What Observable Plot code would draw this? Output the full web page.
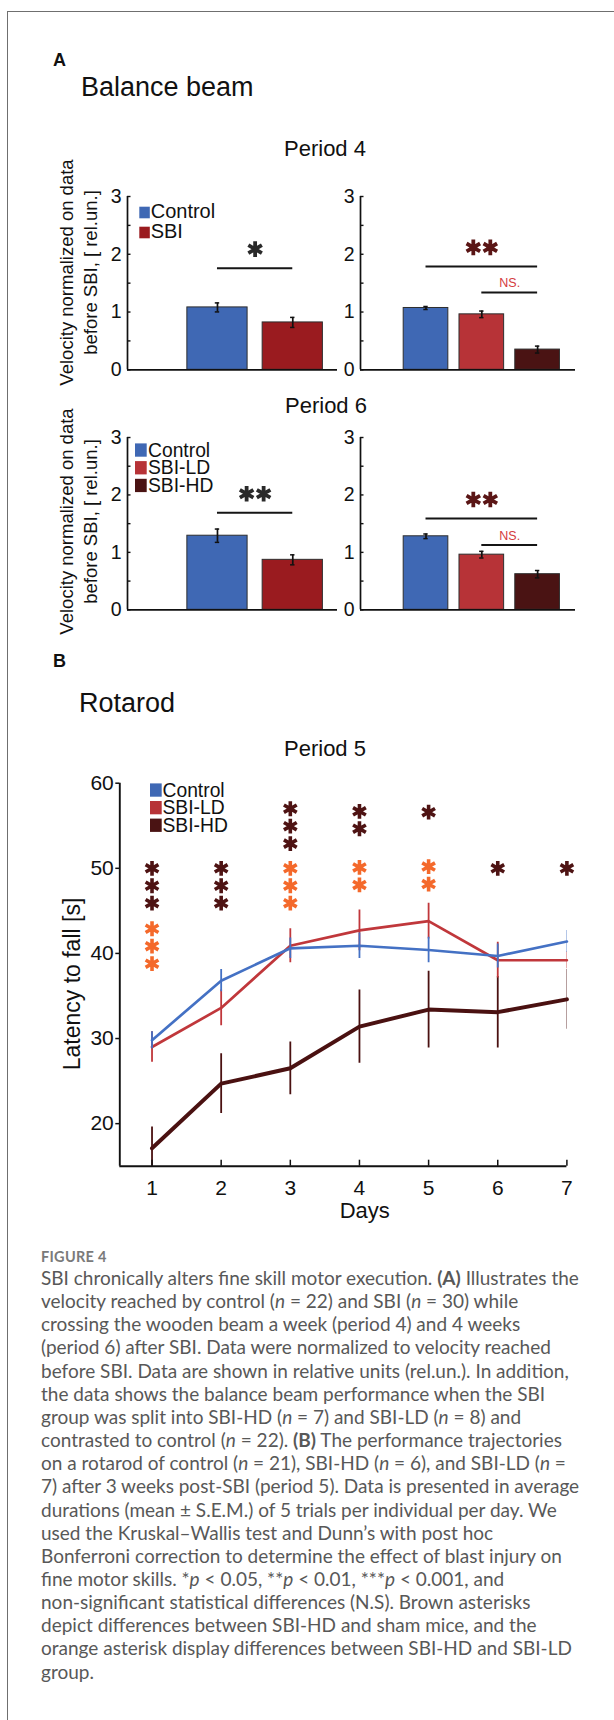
<!DOCTYPE html>
<html><head><meta charset="utf-8">
<script src="https://cdn.jsdelivr.net/npm/d3@7"></script>
<script src="https://cdn.jsdelivr.net/npm/@observablehq/plot@0.6"></script>
<style>
html,body{margin:0;padding:0;background:#fff;}
#page{position:relative;width:614px;height:1720px;overflow:hidden;background:#fff;}
#border{position:absolute;left:7px;top:11px;width:800px;height:1900px;border-left:1.3px solid #6f6f6f;border-top:1.3px solid #6f6f6f;}
</style></head>
<body><div id="page"><div id="border"></div></div>
<script>
// ---------------- DATA ----------------
// Balance beam, period 4
const p4TwoGroups = ["Control", "SBI"];
const p4TwoMean = [1.08, 0.82];
const p4TwoErr = [0.078, 0.087];
const p4ThreeGroups = ["Control", "SBI-LD", "SBI-HD"];
const p4ThreeMean = [1.07, 0.96, 0.35];
const p4ThreeErr = [0.026, 0.057, 0.06];
// Balance beam, period 6
const p6TwoGroups = ["Control", "SBI"];
const p6TwoMean = [1.29, 0.87];
const p6TwoErr = [0.116, 0.087];
const p6ThreeGroups = ["Control", "SBI-LD", "SBI-HD"];
const p6ThreeMean = [1.28, 0.96, 0.62];
const p6ThreeErr = [0.04, 0.058, 0.064];
// significance annotations (from, to, bar height, stars or NS)
const p4TwoSig = [{from: "Control", to: "SBI", y: 1.76, stars: 1}];
const p4ThreeSig = [{from: "Control", to: "SBI-HD", y: 1.79, stars: 2}, {from: "SBI-LD", to: "SBI-HD", y: 1.34, ns: true}];
const p6TwoSig = [{from: "Control", to: "SBI", y: 1.69, stars: 2}];
const p6ThreeSig = [{from: "Control", to: "SBI-HD", y: 1.59, stars: 2}, {from: "SBI-LD", to: "SBI-HD", y: 1.13, ns: true}];
const barTicks = [0, 1, 2, 3];
const barMinorTicks = [0, 0.5, 1, 1.5, 2, 2.5, 3];

// Rotarod, period 5
const days = [1, 2, 3, 4, 5, 6, 7];
const controlMean = [29.8, 36.8, 40.6, 40.9, 40.4, 39.7, 41.4];
const controlSem = [1.0, 1.3, 1.2, 1.5, 1.5, 1.4, 1.3];
const ldMean = [29.0, 33.6, 40.9, 42.7, 43.8, 39.2, 39.2];
const ldSem = [1.8, 2.1, 2.0, 2.4, 2.1, 2.1, 1.0];
const hdMean = [17.1, 24.7, 26.5, 31.4, 33.4, 33.1, 34.6];
const hdSem = [2.5, 3.5, 3.1, 4.3, 4.5, 4.2, 3.5];
const rotTicksY = [20, 30, 40, 50, 60];
// asterisk columns: day, comparison, number of stars, top level
const starDay = [1, 1, 2, 3, 3, 4, 4, 5, 5, 6, 7];
const starVs = ["sham", "LD", "sham", "sham", "LD", "sham", "LD", "sham", "LD", "sham", "sham"];
const starCount = [3, 3, 3, 3, 3, 2, 2, 1, 2, 1, 1];
const starTop = [50.0, 42.9, 50.0, 57.0, 50.0, 56.7, 50.1, 56.6, 50.2, 50.0, 50.0];

// ---------------- STYLE ----------------
const FONT = '"Liberation Sans", Arial, Helvetica, sans-serif';
const barColors = {"Control": "#3f68b4", "SBI": "#9a1b1f", "SBI-LD": "#b73337", "SBI-HD": "#4a1313"};
const lineColors = {"Control": "#4471c4", "SBI-LD": "#c0373b", "SBI-HD": "#4a1111"};
const starColors = {"sham": "#4e1313", "LD": "#f4692b"};
const intFmt = d3.format("d");

const page = document.getElementById("page");
function put(node, left, top) {
  node.style.position = "absolute";
  node.style.left = left + "px";
  node.style.top = top + "px";
  page.appendChild(node);
}

function barPanel({groups, means, errs, sigs, xDomain, left, top, width, height, frame, starColor}) {
  const data = groups.map((g, i) => ({g, i: i + 1, v: means[i], e: errs[i]}));
  const pos = new Map(groups.map((g, i) => [g, i + 1]));
  const sig = sigs.map(s => ({...s, a: pos.get(s.from), b: pos.get(s.to)}));
  const starMarks = sig.filter(s => s.stars).flatMap(s => d3.range(s.stars).map(k =>
    Plot.dot([s], {x: d => (d.a + d.b) / 2, y: "y", dx: (k - (s.stars - 1) / 2) * 17, dy: -19,
      symbol: "asterisk", r: 7.4, stroke: starColor, strokeWidth: 3.8})));
  const chart = Plot.plot({
    width, height,
    marginLeft: frame[0] - left, marginRight: left + width - frame[1],
    marginTop: frame[2] - top, marginBottom: top + height - frame[3],
    x: {domain: xDomain, axis: null, label: null},
    y: {domain: [0, 3], label: null},
    style: {background: "transparent", overflow: "visible", fontFamily: FONT, fontSize: "19.5px", color: "#111"},
    marks: [
      Plot.rectY(data, {x1: d => d.i - 0.4, x2: d => d.i + 0.4, y1: 0, y2: "v",
        fill: d => barColors[d.g], stroke: "#2e2e2e", strokeWidth: 1}),
      Plot.ruleX(data, {x: "i", y1: d => d.v - d.e, y2: d => d.v + d.e, stroke: "#111", strokeWidth: 1.7}),
      Plot.ruleY(data, {x1: "i", x2: "i", y: d => d.v + d.e, insetLeft: -2.2, insetRight: -2.2, stroke: "#111", strokeWidth: 1.5}),
      Plot.ruleY(data, {x1: "i", x2: "i", y: d => d.v - d.e, insetLeft: -2.2, insetRight: -2.2, stroke: "#111", strokeWidth: 1.5}),
      Plot.ruleX([xDomain[0]], {stroke: "#111", strokeWidth: 1.7}),
      Plot.ruleY([0], {stroke: "#111", strokeWidth: 1.7}),
      Plot.axisY({ticks: barTicks, tickSize: 0, tickPadding: 6, fontSize: 19.5, tickFormat: intFmt, label: null}),
      Plot.axisY({ticks: barMinorTicks, tickSize: 3.5, dx: 3.5, tickFormat: () => "", label: null, strokeWidth: 1.4}),
      Plot.ruleY(sig, {x1: "a", x2: "b", y: "y", stroke: "#151515", strokeWidth: 2}),
      Plot.text(sig.filter(s => s.ns), {x: d => (d.a + d.b) / 2, y: "y", text: () => "NS.", dy: -9,
        fill: "#d43b40", fontSize: 12.5}),
      ...starMarks
    ]
  });
  put(chart, left, top);
}

barPanel({groups: p4TwoGroups, means: p4TwoMean, errs: p4TwoErr, sigs: p4TwoSig, xDomain: [-0.195, 2.594],
  left: 0, top: 180, width: 345, height: 200, frame: [127, 337, 196, 369.3], starColor: "#2a2a2a"});
barPanel({groups: p4ThreeGroups, means: p4ThreeMean, errs: p4ThreeErr, sigs: p4ThreeSig, xDomain: [-0.174, 3.679],
  left: 340, top: 180, width: 274, height: 200, frame: [360, 575, 196, 369.3], starColor: "#5a1515"});
barPanel({groups: p6TwoGroups, means: p6TwoMean, errs: p6TwoErr, sigs: p6TwoSig, xDomain: [-0.195, 2.594],
  left: 0, top: 420, width: 345, height: 200, frame: [127, 337, 437, 609.3], starColor: "#2a2a2a"});
barPanel({groups: p6ThreeGroups, means: p6ThreeMean, errs: p6ThreeErr, sigs: p6ThreeSig, xDomain: [-0.174, 3.679],
  left: 340, top: 420, width: 274, height: 200, frame: [360, 575, 437, 609.3], starColor: "#5a1515"});

// Rotarod
const series = [
  {name: "SBI-HD", mean: hdMean, sem: hdSem, w: 4},
  {name: "SBI-LD", mean: ldMean, sem: ldSem, w: 2.7},
  {name: "Control", mean: controlMean, sem: controlSem, w: 2.7}
];
const stars = starDay.flatMap((day, j) => d3.range(starCount[j]).map(k =>
  ({day, vs: starVs[j], y: starTop[j] - k * 2.05})));
const rotMarks = series.flatMap(s => {
  const d = days.map((day, i) => ({day, m: s.mean[i], e: s.sem[i]}));
  return [
    Plot.ruleX(d, {x: "day", y1: r => r.m - r.e, y2: r => r.m + r.e, stroke: lineColors[s.name], strokeWidth: 1.8, clip: true}),
    Plot.line(d, {x: "day", y: "m", stroke: lineColors[s.name], strokeWidth: s.w, strokeLinejoin: "round"})
  ];
});
const rot = Plot.plot({
  width: 614, height: 450,
  marginLeft: 119.3, marginRight: 47.6, marginTop: 22.7, marginBottom: 44.3,
  x: {domain: [0.534, 7], label: null},
  y: {domain: [15, 60], label: null},
  style: {background: "transparent", overflow: "visible", fontFamily: FONT, fontSize: "21px", color: "#111"},
  marks: [
    ...rotMarks,
    Plot.dot(stars, {x: "day", y: "y", symbol: "asterisk", r: 7, stroke: d => starColors[d.vs], strokeWidth: 3.6}),
    Plot.ruleX([0.534], {stroke: "#111", strokeWidth: 1.9}),
    Plot.ruleY([15], {stroke: "#111", strokeWidth: 1.9}),
    Plot.axisY({ticks: rotTicksY, tickSize: 4, tickPadding: 2, fontSize: 21, tickFormat: intFmt, label: null, strokeWidth: 1.5}),
    Plot.axisX({ticks: days, tickSize: 0, tickPadding: 14, fontSize: 21, tickFormat: intFmt, label: null}),
    Plot.axisX({ticks: days, tickSize: 6, dy: -6, tickFormat: () => "", label: null, strokeWidth: 1.5})
  ]
});
put(rot, 0, 760);

// ---------------- TEXT OVERLAY ----------------
const ov = d3.create("svg").attr("width", 614).attr("height", 1720)
  .attr("font-family", FONT).attr("fill", "#111")
  .style("position", "absolute").style("left", "0px").style("top", "0px").style("pointer-events", "none");

const titles = [
  {t: "A", x: 53, y: 65.5, s: 18, w: "bold", a: "start"},
  {t: "Balance beam", x: 81, y: 96, s: 27, a: "start"},
  {t: "Period 4", x: 325, y: 156, s: 22, a: "middle"},
  {t: "Period 6", x: 326, y: 413.3, s: 22, a: "middle"},
  {t: "B", x: 53, y: 667, s: 18, w: "bold", a: "start"},
  {t: "Rotarod", x: 79, y: 712.3, s: 27, a: "start"},
  {t: "Period 5", x: 325, y: 756, s: 22, a: "middle"},
  {t: "Days", x: 364.7, y: 1218.3, s: 22, a: "middle"}
];
for (const d of titles) {
  ov.append("text").attr("x", d.x).attr("y", d.y).attr("font-size", d.s)
    .attr("font-weight", d.w || "normal").attr("text-anchor", d.a).text(d.t);
}
function vtext(x, y, text, size) {
  ov.append("text").attr("transform", `translate(${x},${y}) rotate(-90)`)
    .attr("text-anchor", "middle").attr("font-size", size).text(text);
}
vtext(73, 272.5, "Velocity normalized on data", 18.5);
vtext(97, 272.5, "before SBI, [ rel.un.]", 18.5);
vtext(73, 521.5, "Velocity normalized on data", 18.5);
vtext(97, 521.5, "before SBI, [ rel.un.]", 18.5);
vtext(79.5, 984, "Latency to fall [s]", 23);

function legend(items, {x, w, h, tx, y0, dy, size}) {
  items.forEach((g, k) => {
    const by = y0 + k * dy;
    ov.append("rect").attr("x", x).attr("y", by - h).attr("width", w).attr("height", h).attr("fill", barColors[g]);
    ov.append("text").attr("x", tx).attr("y", by).attr("font-size", size).text(g);
  });
}
legend(p4TwoGroups, {x: 139.3, w: 10.5, h: 11.6, tx: 150.7, y0: 218.3, dy: 20, size: 20});
legend(p6ThreeGroups, {x: 135, w: 11.7, h: 13.3, tx: 148, y0: 456.7, dy: 17.7, size: 19.3});
legend(p4ThreeGroups, {x: 150, w: 11.7, h: 13.3, tx: 162.5, y0: 796.7, dy: 17.6, size: 19.3});

// caption
const CAP = 'Lato, "Open Sans", "Noto Sans", sans-serif';
ov.append("text").attr("x", 41).attr("y", 1261.7).attr("font-family", CAP).attr("font-weight", "bold")
  .attr("font-size", 14.5).attr("fill", "#7a7a7a").attr("letter-spacing", 0.3).text("FIGURE 4");
const I = s => `<tspan font-style="italic">${s}</tspan>`;
const B = s => `<tspan font-weight="bold">${s}</tspan>`;
const captionLines = [
  `SBI chronically alters fine skill motor execution. ${B("(A)")} Illustrates the`,
  `velocity reached by control (${I("n")} = 22) and SBI (${I("n")} = 30) while`,
  `crossing the wooden beam a week (period 4) and 4 weeks`,
  `(period 6) after SBI. Data were normalized to velocity reached`,
  `before SBI. Data are shown in relative units (rel.un.). In addition,`,
  `the data shows the balance beam performance when the SBI`,
  `group was split into SBI-HD (${I("n")} = 7) and SBI-LD (${I("n")} = 8) and`,
  `contrasted to control (${I("n")} = 22). ${B("(B)")} The performance trajectories`,
  `on a rotarod of control (${I("n")} = 21), SBI-HD (${I("n")} = 6), and SBI-LD (${I("n")} =`,
  `7) after 3 weeks post-SBI (period 5). Data is presented in average`,
  `durations (mean ± S.E.M.) of 5 trials per individual per day. We`,
  `used the Kruskal–Wallis test and Dunn’s with post hoc`,
  `Bonferroni correction to determine the effect of blast injury on`,
  `fine motor skills. *${I("p")} &lt; 0.05, **${I("p")} &lt; 0.01, ***${I("p")} &lt; 0.001, and`,
  `non-significant statistical differences (N.S). Brown asterisks`,
  `depict differences between SBI-HD and sham mice, and the`,
  `orange asterisk display differences between SBI-HD and SBI-LD`,
  `group.`
];
const capNodes = captionLines.map((l, k) =>
  ov.append("text").attr("x", 41).attr("y", 1285 + k * 23.15).attr("font-family", CAP)
    .attr("font-size", 17).attr("fill", "#585858").html(l));

page.appendChild(ov.node());
// fit caption width to the reference's first line (about 544 px)
const len = capNodes[0].node().getComputedTextLength();
if (len > 0) {
  const fs = Math.max(14, Math.min(19, 17 * 544 / len));
  capNodes.forEach(n => n.attr("font-size", fs));
}
</script>
</body></html>
